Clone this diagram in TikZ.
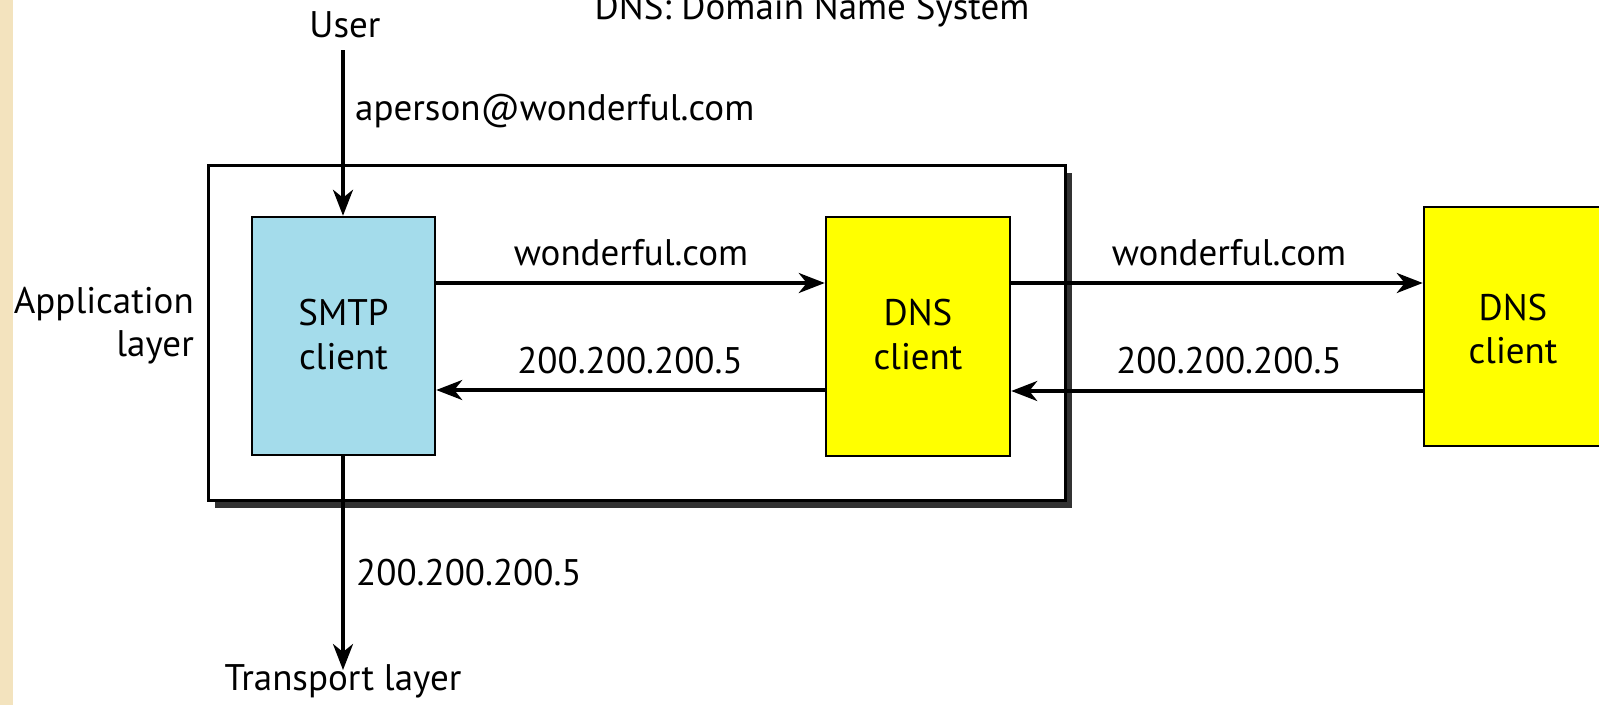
\documentclass[tikz,border=0pt]{standalone}
\usepackage{fontspec}
\setmainfont{PT Sans}
\usetikzlibrary{arrows.meta}
\definecolor{smtpblue}{RGB}{164,220,235}
\definecolor{beige}{RGB}{243,227,190}
\definecolor{shadowgray}{RGB}{50,50,50}
\definecolor{boxyellow}{RGB}{255,255,0}
\tikzset{
  lbl/.style={font=\fontsize{37}{44}\selectfont, inner sep=0pt, anchor=base},
  procbox/.style={draw=black, line width=2.5pt, inner sep=0pt},
  flow/.style={line width=3.5pt, -{Stealth[length=26pt,width=20pt,inset=8pt]}},
}
\begin{document}
\begin{tikzpicture}[x=1pt,y=-1pt]
\useasboundingbox (0,0) rectangle (1599,705);
\fill[white] (0,0) rectangle (1599,705);
\fill[beige] (0,0) rectangle (13,705);
% outer box with shadow
\fill[shadowgray] (215,173) rectangle (1072,508);
\draw[line width=3pt, fill=white] (208,165) rectangle (1065,500);
% boxes
\node[procbox, fill=smtpblue, minimum width=183pt, minimum height=238pt] (smtp) at (343.5,336) {};
\node[procbox, fill=boxyellow, minimum width=184pt, minimum height=239pt] (dns1) at (918,336.5) {};
\node[procbox, fill=boxyellow, minimum width=184pt, minimum height=239pt] (dns2) at (1516,326.5) {};
\node[lbl] (smtpt1) at (343.5,325) {SMTP};
\node[lbl] (smtpt2) at (343.5,369) {client};
\node[lbl] (dns1t1) at (918,325) {DNS};
\node[lbl] (dns1t2) at (918,369) {client};
\node[lbl] (dns2t1) at (1513,320) {DNS};
\node[lbl] (dns2t2) at (1513,363) {client};
% texts
\node[lbl] (title) at (812,19) {DNS: Domain Name System};
\node[lbl] (user) at (345,37) {User};
\coordinate (userend) at (343,50);
\node[lbl, anchor=base west] (addr) at (355,120) {aperson@wonderful.com};
\node[lbl, anchor=base east] (app1) at (194,313) {Application};
\node[lbl, anchor=base east] (app2) at (194,356) {layer};
\node[lbl] (transport) at (343,690) {Transport layer};
\coordinate (transend) at (343,670);
% arrows
\draw[flow] (userend) -- (userend |- smtp.north);
\draw[flow] (smtp.south -| transend) -- (transend);
\node[lbl, anchor=base west] (ip3) at (356,585) {200.200.200.5};
\draw[flow] (smtp.east |- 0,283) -- (dns1.west |- 0,283);
\draw[flow] (dns1.west |- 0,390) -- (smtp.east |- 0,390);
\draw[flow] (dns1.east |- 0,283) -- (dns2.west |- 0,283);
\draw[flow] (dns2.west |- 0,391) -- (dns1.east |- 0,391);
\node[lbl] (w1) at (631,265) {wonderful.com};
\node[lbl] (ip1) at (630,373) {200.200.200.5};
\node[lbl] (w2) at (1229,265) {wonderful.com};
\node[lbl] (ip2) at (1229,373) {200.200.200.5};
\end{tikzpicture}
\end{document}
